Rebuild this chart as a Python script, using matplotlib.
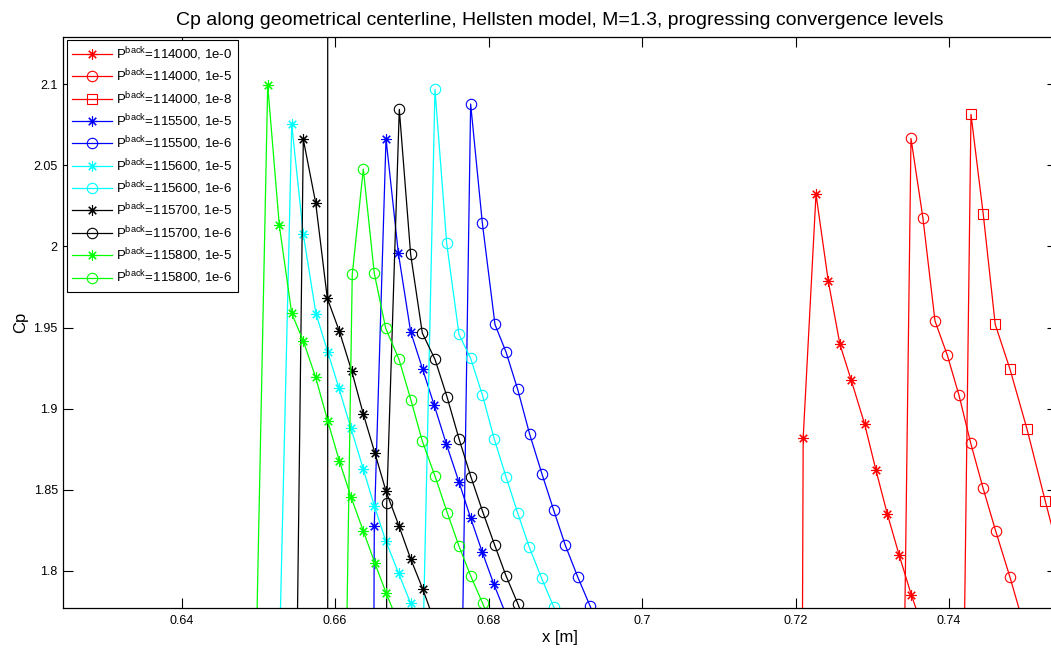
import matplotlib.pyplot as plt
from matplotlib.ticker import FixedLocator, FuncFormatter

plt.rcParams['font.family'] = ['Liberation Sans', 'DejaVu Sans']
plt.rcParams['mathtext.default'] = 'regular'

# Cp вдоль осевой линии
# p=114000, 1e-0
x_114000_0 = [0.72085, 0.7210, 0.72267, 0.72427, 0.72579, 0.72727, 0.72901, 0.73049, 0.73196, 0.73352, 0.73509, 0.73683]
cp_114000_0 = [1.70, 1.8819, 2.0322, 1.9786, 1.9396, 1.9174, 1.8905, 1.8620, 1.8352, 1.8096, 1.7853, 1.7617]
# p=114000, 1e-5
x_114000_5 = [0.73405, 0.73505, 0.73661, 0.73818, 0.73978, 0.74130, 0.74283, 0.74443, 0.74609, 0.74795, 0.74964]
cp_114000_5 = [1.70, 2.0665, 2.0173, 1.9540, 1.9330, 1.9084, 1.8788, 1.8513, 1.8246, 1.7962, 1.7685]
# p=114000, 1e-8
x_114000_8 = [0.74184, 0.74287, 0.74447, 0.74603, 0.74795, 0.75016, 0.75255, 0.75499]
cp_114000_8 = [1.70, 2.0813, 2.0197, 1.9519, 1.9244, 1.8876, 1.8431, 1.7987]
# p=115500, 1e-5
x_115500_5 = [0.6650, 0.66510, 0.66663, 0.66823, 0.66984, 0.67141, 0.67292, 0.67451, 0.67614, 0.67766, 0.67918, 0.68070, 0.68240]
cp_115500_5 = [1.70, 1.8277, 2.0663, 1.9961, 1.9474, 1.9242, 1.9020, 1.8780, 1.8548, 1.8326, 1.8115, 1.7917, 1.7716]
# p=115500, 1e-6
x_115500_6 = [0.6764, 0.67766, 0.67918, 0.68083, 0.68227, 0.68379, 0.68535, 0.68696, 0.68848, 0.69000, 0.69161, 0.69321, 0.69478]
cp_115500_6 = [1.70, 2.0877, 2.0145, 1.9519, 1.9349, 1.9119, 1.8843, 1.8597, 1.8375, 1.8158, 1.7964, 1.7786, 1.7599]
# p=115600, 1e-5
x_115600_5 = [0.6525, 0.65434, 0.65585, 0.65750, 0.65903, 0.66050, 0.66206, 0.66367, 0.66510, 0.66659, 0.66828, 0.66984, 0.67132]
cp_115600_5 = [1.70, 2.0752, 2.0074, 1.9585, 1.9351, 1.9125, 1.8879, 1.8628, 1.8402, 1.8186, 1.7985, 1.7800, 1.7605]
# p=115600, 1e-6
x_115600_6 = [0.6712, 0.67301, 0.67454, 0.67614, 0.67766, 0.67918, 0.68074, 0.68227, 0.68379, 0.68530, 0.68692, 0.68848, 0.69009]
cp_115600_6 = [1.70, 2.0967, 2.0018, 1.9458, 1.9310, 1.9086, 1.8813, 1.8580, 1.8357, 1.8147, 1.7954, 1.7779, 1.7599]
# p=115700, 1e-5
x_115700_5 = [0.65903, 0.65903, 0.6549, 0.65585, 0.65746, 0.65898, 0.66054, 0.66216, 0.66367, 0.66519, 0.66663, 0.66832, 0.66984, 0.67141, 0.67288]
cp_115700_5 = [2.40, 1.65, 1.70, 2.0659, 2.0269, 1.9680, 1.9478, 1.9232, 1.8967, 1.8725, 1.8492, 1.8277, 1.8075, 1.7890, 1.7697]
# p=115700, 1e-6
x_115700_6 = [0.6667, 0.66672, 0.66836, 0.66984, 0.67136, 0.67301, 0.67458, 0.67614, 0.67770, 0.67923, 0.68079, 0.68227, 0.68383, 0.68539]
cp_115700_6 = [1.70, 1.8416, 2.0844, 1.9951, 1.9466, 1.9304, 1.9073, 1.8815, 1.8579, 1.8365, 1.8160, 1.7970, 1.7796, 1.7605]
# p=115800, 1e-5
x_115800_5 = [0.6495, 0.65121, 0.65272, 0.65434, 0.65585, 0.65746, 0.65903, 0.66054, 0.66206, 0.66367, 0.66519, 0.66663, 0.66819]
cp_115800_5 = [1.70, 2.0994, 2.0131, 1.9587, 1.9417, 1.9193, 1.8925, 1.8679, 1.8457, 1.8246, 1.8047, 1.7866, 1.7685]
# p=115800, 1e-6
x_115800_6 = [0.6613, 0.66223, 0.66367, 0.66510, 0.66659, 0.66832, 0.66988, 0.67136, 0.67301, 0.67461, 0.67614, 0.67766, 0.67923, 0.68083]
cp_115800_6 = [1.70, 1.9828, 2.0476, 1.9834, 1.9495, 1.9304, 1.9053, 1.8800, 1.8585, 1.8360, 1.8153, 1.7970, 1.7800, 1.7617]

x_ticks = [0.64, 0.66, 0.68, 0.70, 0.72, 0.74]
y_ticks = [1.8, 1.85, 1.9, 1.95, 2.0, 2.05, 2.1]

star = (8, 2, 0)
series = [
    (x_114000_0, cp_114000_0, '#ff0000', star, '114000, 1e-0'),
    (x_114000_5, cp_114000_5, '#ff0000', 'o', '114000, 1e-5'),
    (x_114000_8, cp_114000_8, '#ff0000', 's', '114000, 1e-8'),
    (x_115500_5, cp_115500_5, '#0000ff', star, '115500, 1e-5'),
    (x_115500_6, cp_115500_6, '#0000ff', 'o', '115500, 1e-6'),
    (x_115600_5, cp_115600_5, '#00ffff', star, '115600, 1e-5'),
    (x_115600_6, cp_115600_6, '#00ffff', 'o', '115600, 1e-6'),
    (x_115700_5, cp_115700_5, '#000000', star, '115700, 1e-5'),
    (x_115700_6, cp_115700_6, '#000000', 'o', '115700, 1e-6'),
    (x_115800_5, cp_115800_5, '#00ff00', star, '115800, 1e-5'),
    (x_115800_6, cp_115800_6, '#00ff00', 'o', '115800, 1e-6'),
]

fig = plt.figure(figsize=(10.51, 6.56), dpi=100)
ax = fig.add_axes([63.3 / 1051, 48 / 656, (1057 - 63.3) / 1051, 570.7 / 656])

for xs, ys, col, mk, lab in series:
    ms = 6.5 if mk == 's' else 7.5
    ax.plot(xs, ys, color=col, marker=mk, markersize=ms, markerfacecolor='none',
            markeredgecolor=col, markeredgewidth=0.8, linewidth=0.9,
            label=r'P$^{back}$=' + lab)

ax.set_xlim(0.62457, 0.75408)
ax.set_ylim(1.7772, 2.1288)
ax.xaxis.set_major_locator(FixedLocator(x_ticks))
ax.yaxis.set_major_locator(FixedLocator(y_ticks))
ax.xaxis.set_major_formatter(FuncFormatter(lambda v, p: '%g' % v))
ax.yaxis.set_major_formatter(FuncFormatter(lambda v, p: '%g' % v))
ax.tick_params(direction='in', length=7.5, width=0.8, top=True, right=True, labelsize=9)
ax.tick_params(axis='x', pad=5)
ax.tick_params(axis='y', pad=4)
for s in ax.spines.values():
    s.set_linewidth(0.9)

ax.set_title('Cp along geometrical centerline, Hellsten model, M=1.3, progressing convergence levels',
             fontsize=14, pad=9)
ax.set_xlabel('x [m]', fontsize=12, labelpad=2)
ax.set_ylabel('Cp', fontsize=12, labelpad=4)

leg = ax.legend(loc='upper left', bbox_to_anchor=(0.0034, 0.9953), borderaxespad=0,
                fontsize=9.5, fancybox=False, framealpha=1, edgecolor='k',
                handlelength=3.0, handletextpad=0.35, labelspacing=0.36,
                borderpad=0.4)
leg.get_frame().set_linewidth(0.8)

plt.savefig('out.png', dpi=100)
